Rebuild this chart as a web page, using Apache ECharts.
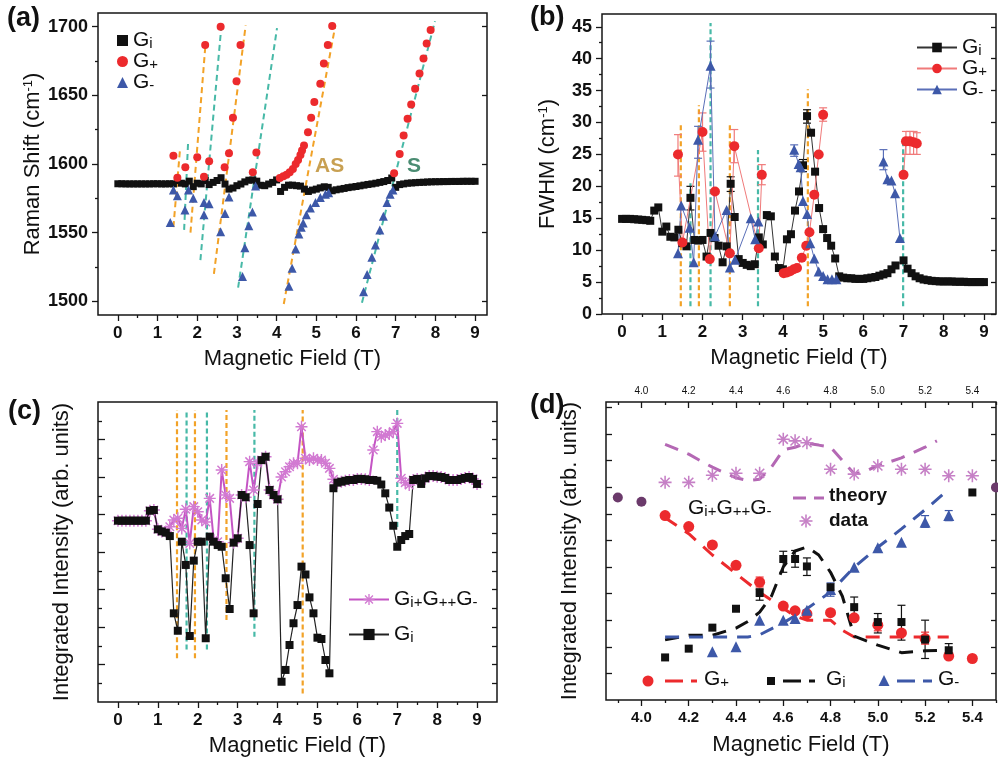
<!DOCTYPE html>
<html>
<head>
<meta charset="utf-8">
<script src="https://cdn.jsdelivr.net/npm/echarts@6/dist/echarts.min.js"></script>
<style>html,body{margin:0;padding:0;background:#fff}#chart{width:998px;height:761px}</style>
</head>
<body>
<div id="chart"></div>
<script>
// ---------- panel (a): Raman shift vs field ----------
const aGi = [[0,1585.6],[0.1,1585.6],[0.2,1585.5],[0.3,1585.5],[0.4,1585.5],[0.5,1585.5],[0.6,1585.5],[0.7,1585.5],[0.8,1585.5],[0.9,1585.6],[1.0,1585.6],[1.1,1585.5],[1.2,1585.5],[1.3,1585.6],[1.4,1585.5],[1.5,1588],[1.6,1586],[1.7,1585.5],[1.8,1587.5],[1.9,1583.5],[2.0,1586],[2.1,1585.5],[2.2,1588],[2.3,1585],[2.4,1586.6],[2.5,1588],[2.6,1590],[2.7,1585.4],[2.8,1581.7],[2.9,1582.5],[3.0,1584.2],[3.1,1585.4],[3.2,1587],[3.3,1588.2],[3.4,1588.4],[3.5,1587.5],[3.6,1584.5],[3.7,1584.2],[3.8,1585.4],[3.9,1586.6],[4.0,1588.4],[4.1,1580],[4.2,1583],[4.3,1584.6],[4.4,1584.6],[4.5,1584.2],[4.6,1583.9],[4.7,1581.7],[4.8,1580],[4.9,1581],[5.0,1581.7],[5.1,1582.6],[5.2,1583.4],[5.3,1583],[5.4,1580.5],[5.5,1581.2],[5.6,1581.7],[5.7,1582.2],[5.8,1582.8],[5.9,1583.2],[6.0,1583.6],[6.1,1584.1],[6.2,1584.6],[6.3,1585.1],[6.4,1585.5],[6.5,1586],[6.6,1586.6],[6.7,1587.2],[6.8,1588],[6.9,1589.8],[7.0,1583],[7.1,1585],[7.2,1585.5],[7.3,1586],[7.4,1586.2],[7.5,1586.4],[7.6,1586.6],[7.7,1586.7],[7.8,1586.9],[7.9,1587],[8.0,1587.1],[8.1,1587.1],[8.2,1587.2],[8.3,1587.2],[8.4,1587.3],[8.5,1587.3],[8.6,1587.3],[8.7,1587.4],[8.8,1587.4],[8.9,1587.4],[9.0,1587.4]];
const aGPlus = [[1.4,1606],[1.5,1590],[1.7,1597.6],[2.0,1605],[2.17,1590.8],[2.2,1686.6],[2.3,1602],[2.59,1700],[2.69,1597.6],[2.8,1607.8],[2.9,1633.7],[2.99,1660.3],[3.09,1686.6],[3.4,1594],[3.49,1608.3],
  [4.08,1589.8],[4.17,1591],[4.25,1592.2],[4.33,1593.9],[4.41,1596.3],[4.48,1600],[4.54,1602.9],[4.6,1606.6],[4.64,1609.8],[4.69,1613.4],[4.79,1623.2],[4.87,1633.7],[4.95,1645.1],[5.1,1658.5],[5.19,1673.2],[5.29,1686.6],[5.4,1700.5],
  [6.96,1593.2],[7.1,1607.3],[7.2,1620.7],[7.3,1632.9],[7.39,1643.4],[7.49,1654.9],[7.6,1665.9],[7.7,1676.8],[7.78,1687.8],[7.88,1697.6]];
const aGMinus = [[1.32,1557.4],[1.4,1581],[1.5,1576.8],[1.69,1566.5],[1.78,1581],[1.9,1575],[2.17,1572],[2.17,1563],[2.3,1571],[2.59,1550.7],[2.7,1564],[2.8,1576],[3.14,1518],[3.2,1539],[3.3,1555],[3.39,1565],[3.47,1584],
  [4.31,1511],[4.39,1524],[4.48,1538],[4.56,1549],[4.62,1554],[4.67,1557],[4.75,1563],[4.85,1568],[4.98,1572],[5.1,1575.6],[5.23,1578],[5.31,1579],
  [6.19,1507],[6.28,1519.5],[6.4,1532],[6.49,1541],[6.6,1552],[6.69,1562],[6.78,1572],[6.86,1578],[6.93,1581]];
// resonance guide lines [x1, y1, x2, y2]
const aOrangeLines = [[1.40,1554,1.57,1612],[1.83,1550,2.21,1688],[2.42,1520,3.22,1701],[4.18,1498,5.48,1701]];
const aTealLines = [[1.67,1552,1.77,1616],[2.08,1530,2.61,1701],[3.03,1510,4.01,1699],[6.15,1499,7.99,1704]];

// ---------- panel (b): FWHM ----------
const bGi = [[0,14.9],[0.1,14.9],[0.2,14.9],[0.3,14.85],[0.4,14.8],[0.5,14.75],[0.6,14.7],[0.7,14.6],[0.8,16.2],[0.9,16.7],[1.0,12.9],[1.1,13.7],[1.2,12.1],[1.3,12.0],[1.4,13.2],[1.5,11.1],[1.6,10.6],[1.7,18.2],[1.8,11.6],[1.9,11.5],[2.0,11.6],[2.1,9.0],[2.2,12.7],[2.3,11.9],[2.4,10.7],[2.5,8.1],[2.6,10.6],[2.7,20.4],[2.8,15.2],[2.9,8.6],[3.0,8.0],[3.1,7.7],[3.2,7.5],[3.3,7.8],[3.4,12.0],[3.5,10.9],[3.6,15.5],[3.7,15.3],[3.8,9.0],[3.9,7.2],[4.0,7.0],[4.1,11.7],[4.2,12.5],[4.3,16.2],[4.4,19.2],[4.5,23.3],[4.6,31.0],[4.7,28.4],[4.8,22.3],[4.9,16.6],[5.0,13.3],[5.1,11.9],[5.2,10.7],[5.3,8.7],[5.4,5.9],[5.5,5.7],[5.6,5.6],[5.7,5.6],[5.8,5.5],[5.9,5.5],[6.0,5.5],[6.1,5.6],[6.2,5.7],[6.3,5.8],[6.4,6.0],[6.5,6.2],[6.6,6.4],[6.7,7.0],[6.8,7.6],[7.0,8.4],[7.1,7.1],[7.2,6.4],[7.3,5.9],[7.4,5.6],[7.5,5.4],[7.6,5.3],[7.7,5.2],[7.8,5.15],[7.9,5.1],[8.0,5.1],[8.1,5.1],[8.2,5.1],[8.3,5.05],[8.4,5.05],[8.5,5.05],[8.6,5.0],[8.7,5.0],[8.8,5.0],[8.9,5.0],[9.0,5.0]];
const bGPlusGroups = [
  [[1.39,25.0],[1.5,11.2],[2.0,28.5],[2.18,8.6],[2.31,19.2],[2.68,9.5],[2.79,26.3],[3.4,10.3],[3.475,21.8]],
  [[4.02,6.4],[4.1,6.5],[4.18,6.7],[4.27,7.0],[4.35,7.2],[4.47,8.8],[4.58,10.7],[4.66,12.8],[4.78,18.7],[4.89,25.0],[5.0,31.2]],
  [[7.0,21.8],[7.06,27.05],[7.16,27.05],[7.25,26.9],[7.33,26.7]]
];
const bGMinusGroups = [
  [[1.39,9.5],[1.47,17.0],[1.68,13.5],[1.78,8.1],[1.89,27.3],[2.2,38.9],[2.31,12.2],[2.6,16.3],[2.68,7.3],[2.81,8.5],[3.2,15.0],[3.31,11.7],[3.39,14.5]],
  [[4.28,25.75],[4.39,23.5],[4.44,23.0],[4.5,17.7],[4.6,15.65],[4.68,11.1],[4.78,8.7],[4.89,6.65],[5.0,5.97],[5.11,5.44],[5.22,5.44],[5.33,5.44]],
  [[6.5,23.9],[6.6,21.1],[6.7,20.9],[6.79,18.9],[6.91,11.9]]
];
// error bars [x, low, high]
const bErrGi = [[1.7,16.3,20.0],[2.7,19.2,21.5],[4.5,22.3,24.2],[4.6,29.9,32.0]];
const bErrGPlus = [[1.39,21.6,28.1],[2.0,25.5,31.5],[2.79,23.7,28.9],[3.475,20.25,23.4],[5.0,30.2,32.3],[7.06,25.0,28.6],[7.16,25.0,28.6],[7.25,25.0,28.6],[7.33,25.0,28.4]];
const bErrGMinus = [[1.89,24.4,29.4],[2.2,35.4,42.75],[4.28,24.7,26.5],[6.5,22.6,25.75]];
// vertical resonance marks [x, bottom, top]
const bOrangeMarks = [[1.46,1.2,30],[1.91,1.2,32.7],[2.68,1.2,29.7],[4.62,1.2,35.2]];
const bTealMarks = [[1.7,1.2,20.5],[2.2,1.2,45.6],[3.38,1.2,25.7],[6.99,1.2,27.6]];

// ---------- panel (c): integrated intensity ----------
const cGi = [[0,9.67],[0.1,9.67],[0.2,9.67],[0.3,9.67],[0.4,9.67],[0.5,9.67],[0.6,9.67],[0.7,9.67],[0.8,10.2],[0.9,10.24],[1.0,9.21],[1.1,9.1],[1.2,9.03],[1.3,8.85],[1.4,4.73],[1.5,3.8],[1.6,8.55],[1.7,7.31],[1.8,3.52],[1.9,7.54],[2.0,8.55],[2.1,8.55],[2.2,3.4],[2.3,8.82],[2.4,8.55],[2.5,8.37],[2.6,8.28],[2.7,6.6],[2.8,4.96],[2.9,8.5],[3.0,8.73],[3.1,11.04],[3.2,10.92],[3.3,8.37],[3.4,4.73],[3.5,10.56],[3.6,12.9],[3.7,13.08],[3.8,11.31],[3.9,11.04],[4.0,10.81],[4.1,1.08],[4.2,1.71],[4.3,3.04],[4.4,4.2],[4.5,5.17],[4.6,7.22],[4.7,6.8],[4.8,5.58],[4.9,4.73],[5.0,3.43],[5.1,3.36],[5.2,2.24],[5.3,1.53],[5.4,11.4],[5.5,11.7],[5.6,11.75],[5.7,11.8],[5.8,11.84],[5.9,11.84],[6.0,11.9],[6.1,11.9],[6.2,11.88],[6.3,11.84],[6.4,11.84],[6.5,11.8],[6.6,11.6],[6.7,11.13],[6.8,10.37],[6.9,9.4],[7.0,8.28],[7.1,8.64],[7.2,8.85],[7.3,8.96],[7.4,11.84],[7.5,11.9],[7.6,11.63],[7.7,11.93],[7.8,12.05],[7.9,12.05],[8.0,12.02],[8.1,12.0],[8.2,11.95],[8.3,11.84],[8.4,11.84],[8.5,11.84],[8.6,11.9],[8.7,11.95],[8.8,12.0],[8.9,11.9],[9.0,11.63]];
const cSum = [[0,9.67],[0.1,9.67],[0.2,9.67],[0.3,9.67],[0.4,9.67],[0.5,9.67],[0.6,9.67],[0.7,9.67],[0.8,10.2],[0.9,10.24],[1.0,9.21],[1.1,9.1],[1.2,9.1],[1.3,9.35],[1.4,9.71],[1.5,9.8],[1.6,9.26],[1.7,10.28],[1.8,8.46],[1.9,10.42],[2.0,10.15],[2.1,9.71],[2.2,9.6],[2.3,10.86],[2.4,8.64],[2.5,8.55],[2.6,12.37],[2.7,11.04],[2.8,10.86],[2.9,8.5],[3.0,8.73],[3.1,11.04],[3.2,10.92],[3.3,12.82],[3.4,11.31],[3.5,12.73],[3.6,12.9],[3.7,13.08],[3.8,11.31],[3.9,11.04],[4.0,10.81],[4.1,12.0],[4.2,12.28],[4.3,12.55],[4.4,12.73],[4.5,12.73],[4.6,14.68],[4.7,13.0],[4.8,12.91],[4.9,13.0],[5.0,12.91],[5.1,12.91],[5.2,12.73],[5.3,12.46],[5.4,11.88],[5.5,11.7],[5.6,11.75],[5.7,11.8],[5.8,11.84],[5.9,11.84],[6.0,11.9],[6.1,11.9],[6.2,11.88],[6.3,11.84],[6.4,13.44],[6.5,14.42],[6.6,14.15],[6.7,14.24],[6.8,14.3],[6.9,14.42],[7.0,14.86],[7.1,11.93],[7.2,11.7],[7.3,11.57],[7.4,11.84],[7.5,11.9],[7.6,11.8],[7.7,11.93],[7.8,12.05],[7.9,12.05],[8.0,12.02],[8.1,12.0],[8.2,11.95],[8.3,11.84],[8.4,11.84],[8.5,11.84],[8.6,11.9],[8.7,11.95],[8.8,12.0],[8.9,11.9],[9.0,11.63]];
const cOrangeMarks = [[1.48,2.33,15.57],[1.93,2.33,15.57],[2.72,4.37,15.57],[4.63,0.46,15.57]];
const cTealMarks = [[1.72,2.8,15.57],[2.23,2.8,15.57],[3.42,3.48,15.57],[7.0,9.33,15.57]];

// ---------- panel (d): zoom 3.9 - 5.5 T ----------
const dData = [[4.1,8.18],[4.2,8.18],[4.3,8.45],[4.4,8.52],[4.5,8.52],[4.6,9.8],[4.65,9.74],[4.7,9.67],[4.8,8.67],[4.9,8.49],[5.0,8.8],[5.1,8.67],[5.2,8.67],[5.3,8.43],[5.4,8.43]];
const dGiOnly = [[3.9,7.61],[4.0,7.45],[5.5,7.99]];
const dTheory = [[4.1,9.61],[4.15,9.43],[4.2,9.24],[4.25,8.99],[4.3,8.75],[4.35,8.55],[4.4,8.35],[4.45,8.25],[4.5,8.3],[4.55,8.75],[4.6,9.4],[4.65,9.5],[4.7,9.65],[4.75,9.58],[4.8,9.5],[4.85,9.0],[4.9,8.5],[4.95,8.6],[5.0,8.82],[5.05,8.95],[5.1,9.1],[5.15,9.3],[5.2,9.5],[5.25,9.74]];
const dGPlus = [[4.1,6.93],[4.2,6.52],[4.3,5.83],[4.4,5.06],[4.5,4.43],[4.6,3.53],[4.65,3.35],[4.7,3.24],[4.8,3.28],[4.9,3.09],[5.0,2.81],[5.1,2.52],[5.2,2.31],[5.3,1.65],[5.4,1.56]];
const dGPlusTheory = [[4.1,6.85],[4.2,6.25],[4.3,5.45],[4.4,4.75],[4.5,4.05],[4.6,3.45],[4.65,3.15],[4.7,3.0],[4.8,3.0],[4.85,2.62],[4.9,2.37],[5.0,2.37],[5.1,2.37],[5.2,2.37],[5.3,2.37]];
const dGi = [[4.1,1.6],[4.2,1.93],[4.3,2.72],[4.4,3.43],[4.5,4.02],[4.6,5.3],[4.65,5.3],[4.7,5.02],[4.8,4.24],[4.9,3.49],[5.0,2.93],[5.1,2.93],[5.2,2.27],[5.3,1.87],[5.4,7.8]];
const dGiTheory = [[4.1,2.26],[4.2,2.43],[4.3,2.43],[4.4,2.7],[4.45,2.95],[4.5,3.3],[4.55,3.9],[4.6,5.0],[4.65,5.6],[4.7,5.75],[4.75,5.45],[4.8,4.8],[4.85,3.9],[4.9,2.4],[5.0,2.06],[5.1,1.78],[5.2,1.85],[5.3,1.87]];
const dGMinus = [[4.3,1.81],[4.4,2.0],[4.5,3.0],[4.6,3.0],[4.65,3.06],[4.7,3.37],[4.8,4.15],[4.9,4.99],[5.0,5.72],[5.1,5.93],[5.2,6.68],[5.3,6.93]];
const dGMinusTheory = [[4.1,2.37],[4.2,2.37],[4.3,2.37],[4.4,2.37],[4.45,2.37],[4.5,2.45],[4.6,2.9],[4.7,3.43],[4.8,4.06],[4.9,4.99],[5.0,5.74],[5.1,6.43],[5.2,7.15],[5.3,7.92]];
const dErrGi = [[4.5,3.75,4.18],[4.6,4.8,5.59],[4.65,4.99,5.62],[4.7,4.68,5.34],[4.9,3.18,3.87],[5.0,2.52,3.25],[5.1,2.25,3.56],[5.2,1.56,3.0],[5.3,1.56,2.12]];
const dErrGPlus = [[4.5,4.25,4.62],[5.0,2.6,3.0],[5.2,2.1,2.55]];
const dErrGMinus = [[4.8,3.9,4.4],[5.2,6.49,6.93],[5.3,6.74,7.12]];

// ---------- tick values ----------
const fieldTicks = [0,1,2,3,4,5,6,7,8,9];
const fieldMinor = [0.5,1.5,2.5,3.5,4.5,5.5,6.5,7.5,8.5];
const shiftTicks = [1500,1550,1600,1650,1700];
const shiftMinor = [1525,1575,1625,1675];
const fwhmTicks = [0,5,10,15,20,25,30,35,40,45];
const fwhmMinor = [2.5,7.5,12.5,17.5,22.5,27.5,32.5,37.5,42.5];
const cIntTicks = [2,4,6,8,10,12,14];
const cIntMinor = [1,3,5,7,9,11,13,15];
const dFieldTicks = [4.0,4.2,4.4,4.6,4.8,5.0,5.2,5.4];
const dFieldMinor = [3.9,4.1,4.3,4.5,4.7,4.9,5.1,5.3,5.5];
const dIntTicks = [1,2,3,4,5,6,7,8,9,10,11];

const FONT = '"Liberation Sans", Arial, sans-serif';
const INK = '#161616';
const RED = '#ec2a2d', BLUE = '#3d58a8', BLACK = '#111111';
const ORANGE = '#f2a227', TEAL = '#47b9a7';
const PURPLE = '#c454c4', PSTAR = '#d27ad2';
const DPURPLE = '#b468b4', DSTAR = '#c680c6', DARK = '#6b3a6b';
const STAR = 'path://M0,8.8L20,8.8L20,11.2L0,11.2Z M8.8,0L11.2,0L11.2,20L8.8,20Z M2.08,3.78L3.78,2.08L17.92,16.22L16.22,17.92Z M3.78,17.92L2.08,16.22L16.22,2.08L17.92,3.78Z';

const RICH = {
  b: {fontFamily: FONT, fontSize: 21, color: BLACK},
  s: {fontFamily: FONT, fontSize: 15, color: BLACK, verticalAlign: 'bottom'}
};
const legendText = {
  aGi: '{b|G}{s|i}', aGp: '{b|G}{s|+}', aGm: '{b|G}{s|-}',
  bGi: '{b|G}{s|i}', bGp: '{b|G}{s|+}', bGm: '{b|G}{s|-}',
  cSum: '{b|G}{s|i+}{b|G}{s|++}{b|G}{s|-}', cGi: '{b|G}{s|i}'
};

const nameStyle = {fontFamily: FONT, fontSize: 22, color: BLACK,
  rich: {sup: {fontFamily: FONT, fontSize: 13, color: BLACK, verticalAlign: 'top'}}};

function axis(extra) {
  return Object.assign({type: 'value', splitLine: {show: false},
    axisLine: {show: false, onZero: false}, axisLabel: {show: false}, axisTick: {show: false}}, extra);
}
function ticks(values, length, inside) {
  return {show: true, customValues: values, length: length, inside: inside, lineStyle: {color: INK, width: 1.3}};
}
const plain = v => String(v);
const oneDec = v => Number(v).toFixed(1);
function labels(values, size, margin, fmt) {
  return {show: true, customValues: values, fontFamily: FONT, fontWeight: 'bold', fontSize: size, color: BLACK,
    margin: margin, formatter: fmt || plain};
}

function scatter(name, data, xi, yi, symbol, size, color, z) {
  return {name, type: 'scatter', xAxisIndex: xi, yAxisIndex: yi, data, symbol, symbolSize: size,
    itemStyle: {color, opacity: 1}, z: z || 3, silent: true};
}
function curve(name, data, xi, yi, symbol, size, color, lineColor, width) {
  return {name, type: 'line', xAxisIndex: xi, yAxisIndex: yi, data, symbol, symbolSize: size,
    showSymbol: true, itemStyle: {color, opacity: 1}, lineStyle: {color: lineColor, width: width}, z: 3, silent: true};
}
function dashed(data, xi, yi, color, width, dash, name) {
  return {name: name || '', type: 'line', xAxisIndex: xi, yAxisIndex: yi, data, symbol: 'none',
    lineStyle: {color, width, type: dash}, z: 2, silent: true};
}
function segmentLines(segs, xi, yi, color) {
  return segs.map(s => dashed([[s[0], s[1]], [s[2], s[3]]], xi, yi, color, 2, [6, 4]));
}
function verticalMarks(marks, xi, yi, color) {
  return marks.map(m => dashed([[m[0], m[1]], [m[0], m[2]]], xi, yi, color, 2.2, [5, 3]));
}
function errorBars(data, xi, yi, color) {
  return {
    type: 'custom', xAxisIndex: xi, yAxisIndex: yi, data, silent: true, z: 3,
    encode: {x: 0, y: [1, 2]},
    renderItem: (params, api) => {
      const top = api.coord([api.value(0), api.value(2)]);
      const bot = api.coord([api.value(0), api.value(1)]);
      const w = 4;
      const st = {stroke: color, lineWidth: 1.2};
      return {type: 'group', children: [
        {type: 'line', shape: {x1: top[0], y1: top[1], x2: bot[0], y2: bot[1]}, style: st},
        {type: 'line', shape: {x1: top[0] - w, y1: top[1], x2: top[0] + w, y2: top[1]}, style: st},
        {type: 'line', shape: {x1: bot[0] - w, y1: bot[1], x2: bot[0] + w, y2: bot[1]}, style: st}
      ]};
    }
  };
}

const grids = [
  {left: 98, top: 13, width: 389, height: 302},
  {left: 602, top: 14, width: 394, height: 300},
  {left: 98, top: 402, width: 399, height: 300},
  {left: 606, top: 402, width: 390, height: 298}
].map(g => Object.assign({show: true, borderColor: INK, borderWidth: 1.5, backgroundColor: 'transparent',
  containLabel: false, outerBoundsMode: 'none'}, g));

const fieldName = {name: 'Magnetic Field (T)', nameLocation: 'middle', nameTextStyle: nameStyle};

const xAxis = [
  // (a) 0,1
  axis(Object.assign({gridIndex: 0, position: 'bottom', min: -0.5, max: 9.3,
    axisTick: ticks(fieldTicks, 6, false), axisLabel: labels(fieldTicks, 17, 10), nameGap: 33}, fieldName)),
  axis({gridIndex: 0, position: 'bottom', min: -0.5, max: 9.3, axisTick: ticks(fieldMinor, 3, false)}),
  // (b) 2,3
  axis(Object.assign({gridIndex: 1, position: 'bottom', min: -0.5, max: 9.3,
    axisTick: ticks(fieldTicks, 6, false), axisLabel: labels(fieldTicks, 17, 10), nameGap: 33}, fieldName)),
  axis({gridIndex: 1, position: 'bottom', min: -0.5, max: 9.3, axisTick: ticks(fieldMinor, 3, false)}),
  // (c) 4,5
  axis(Object.assign({gridIndex: 2, position: 'bottom', min: -0.5, max: 9.5,
    axisTick: ticks(fieldTicks, 6, false), axisLabel: labels(fieldTicks, 17, 10), nameGap: 33}, fieldName)),
  axis({gridIndex: 2, position: 'bottom', min: -0.5, max: 9.5, axisTick: ticks(fieldMinor, 3, false)}),
  // (d) 6,7 bottom, 8,9 top
  axis(Object.assign({gridIndex: 3, position: 'bottom', min: 3.85, max: 5.5,
    axisTick: ticks(dFieldTicks, 6, false), axisLabel: labels(dFieldTicks, 15, 10, oneDec), nameGap: 34}, fieldName)),
  axis({gridIndex: 3, position: 'bottom', min: 3.85, max: 5.5, axisTick: ticks(dFieldMinor, 3, false)}),
  axis({gridIndex: 3, position: 'top', min: 3.85, max: 5.5, axisTick: ticks(dFieldTicks, 6, true),
    axisLabel: {show: true, customValues: dFieldTicks, fontFamily: FONT, fontSize: 10, color: BLACK, margin: 6, formatter: oneDec}}),
  axis({gridIndex: 3, position: 'top', min: 3.85, max: 5.5, axisTick: ticks(dFieldMinor, 3, true)})
];

const intName = {name: 'Integrated Intensity (arb. units)', nameLocation: 'middle', nameTextStyle: nameStyle};
const yAxis = [
  // (a) 0,1,2
  axis({gridIndex: 0, position: 'left', min: 1490, max: 1710, axisTick: ticks(shiftTicks, 6, false),
    axisLabel: labels(shiftTicks, 18, 10), name: 'Raman Shift (cm{sup|-1})', nameLocation: 'middle', nameGap: 45, nameTextStyle: nameStyle}),
  axis({gridIndex: 0, position: 'left', min: 1490, max: 1710, axisTick: ticks(shiftMinor, 3, false)}),
  axis({gridIndex: 0, position: 'right', min: 1490, max: 1710, axisTick: ticks(shiftTicks, 5, true)}),
  // (b) 3,4,5
  axis({gridIndex: 1, position: 'left', min: 0, max: 47, axisTick: ticks(fwhmTicks, 6, false),
    axisLabel: labels(fwhmTicks, 18, 10), name: 'FWHM (cm{sup|-1})', nameLocation: 'middle', nameGap: 43, nameTextStyle: nameStyle}),
  axis({gridIndex: 1, position: 'left', min: 0, max: 47, axisTick: ticks(fwhmMinor, 3, false)}),
  axis({gridIndex: 1, position: 'right', min: 0, max: 47, axisTick: ticks(fwhmTicks, 5, true)}),
  // (c) 6,7,8
  axis(Object.assign({gridIndex: 2, position: 'left', min: 0, max: 16, axisTick: ticks(cIntTicks, 7, true), nameGap: 25}, intName)),
  axis({gridIndex: 2, position: 'left', min: 0, max: 16, axisTick: ticks(cIntMinor, 4, true)}),
  axis({gridIndex: 2, position: 'right', min: 0, max: 16, axisTick: ticks(cIntTicks.concat(cIntMinor), 5, true)}),
  // (d) 9,10
  axis(Object.assign({gridIndex: 3, position: 'left', min: 0, max: 11.2, axisTick: ticks(dIntTicks, 6, true), nameGap: 25}, intName)),
  axis({gridIndex: 3, position: 'right', min: 0, max: 11.2, axisTick: ticks(dIntTicks, 5, true)})
];

const legendBase = {orient: 'vertical', selectedMode: false, padding: 0,
  formatter: n => legendText[n], textStyle: {fontFamily: FONT, fontSize: 21, color: BLACK, rich: RICH}};
const legend = [
  Object.assign({}, legendBase, {data: ['aGi', 'aGp', 'aGm'], left: 117, top: 30, itemGap: 0, itemWidth: 11, itemHeight: 11}),
  Object.assign({}, legendBase, {data: ['bGi', 'bGp', 'bGm'], left: 916, top: 37, itemGap: 0, itemWidth: 40, itemHeight: 12}),
  Object.assign({}, legendBase, {data: ['cSum', 'cGi'], left: 348, top: 589, itemGap: 14, itemWidth: 40, itemHeight: 14})
];

const series = [].concat(
  // (a)
  segmentLines(aOrangeLines, 0, 0, ORANGE),
  segmentLines(aTealLines, 0, 0, TEAL),
  [scatter('aGi', aGi, 0, 0, 'rect', 7, BLACK),
   scatter('aGp', aGPlus, 0, 0, 'circle', 8, RED, 4),
   scatter('aGm', aGMinus, 0, 0, 'triangle', 9, BLUE, 4)],
  // (b)
  verticalMarks(bOrangeMarks, 2, 3, ORANGE),
  verticalMarks(bTealMarks, 2, 3, TEAL),
  [errorBars(bErrGi, 2, 3, BLACK), errorBars(bErrGPlus, 2, 3, '#f07a7a'), errorBars(bErrGMinus, 2, 3, '#5a6fb8')],
  [curve('bGi', bGi, 2, 3, 'rect', 8, BLACK, '#333', 1)],
  bGPlusGroups.map(g => curve('bGp', g, 2, 3, 'circle', 10, RED, '#f07a7a', 1)),
  bGMinusGroups.map(g => curve('bGm', g, 2, 3, 'triangle', 10, BLUE, '#5a6fb8', 1)),
  // (c)
  verticalMarks(cOrangeMarks, 4, 6, ORANGE),
  verticalMarks(cTealMarks, 4, 6, TEAL),
  [curve('cSum', cSum, 4, 6, STAR, 12, PSTAR, PURPLE, 2),
   curve('cGi', cGi, 4, 6, 'rect', 8, BLACK, '#222', 1.2)],
  // (d)
  [dashed(dTheory, 6, 9, DPURPLE, 3, [14, 10]),
   dashed(dGPlusTheory, 6, 9, RED, 3, [14, 10]),
   dashed(dGiTheory, 6, 9, BLACK, 3, [14, 10]),
   dashed(dGMinusTheory, 6, 9, BLUE, 3, [14, 10]),
   errorBars(dErrGi, 6, 9, BLACK), errorBars(dErrGPlus, 6, 9, RED), errorBars(dErrGMinus, 6, 9, BLUE),
   scatter('dData', dData, 6, 9, STAR, 13, DSTAR),
   scatter('dGiOnly', dGiOnly, 6, 9, 'circle', 10, DARK),
   scatter('dGp', dGPlus, 6, 9, 'circle', 11, RED),
   scatter('dGi', dGi, 6, 9, 'rect', 8, BLACK, 4),
   scatter('dGm', dGMinus, 6, 9, 'triangle', 11, BLUE)]
);

// small asterisk for the (d) legend, built from four strokes
function starIcon(cx, cy, r, color) {
  const arms = [[r, 0], [0, r], [r * 0.71, r * 0.71], [r * 0.71, -r * 0.71]];
  return arms.map(a => ({type: 'line', z: 10, shape: {x1: cx - a[0], y1: cy - a[1], x2: cx + a[0], y2: cy + a[1]},
    style: {stroke: color, lineWidth: 1.6}}));
}

const label = (text, left, top) => ({type: 'text', left, top, z: 10,
  style: {text, font: 'bold 27px ' + FONT, fill: BLACK}});
const richText = (text, left, top) => ({type: 'text', left, top, z: 10, style: {text, rich: RICH, font: '21px ' + FONT, fill: BLACK}});
const graphic = {elements: [
  label('(a)', 7, 5), label('(b)', 530, 4), label('(c)', 8, 398), label('(d)', 530, 392),
  {type: 'text', left: 315, top: 156, z: 10, style: {text: 'AS', font: 'bold 21px ' + FONT, fill: '#c8a052'}},
  {type: 'text', left: 407, top: 156, z: 10, style: {text: 'S', font: 'bold 21px ' + FONT, fill: '#4a8c72'}},
  // (d) legend
  richText('{b|G}{s|i+}{b|G}{s|++}{b|G}{s|-}', 688, 498),
  {type: 'line', z: 10, shape: {x1: 793, y1: 498, x2: 824, y2: 498}, style: {stroke: DPURPLE, lineWidth: 3, lineDash: [13, 8]}},
  {type: 'text', left: 829, top: 486, z: 10, style: {text: 'theory', font: 'bold 19px ' + FONT, fill: BLACK}},
  {type: 'text', left: 829, top: 511, z: 10, style: {text: 'data', font: 'bold 19px ' + FONT, fill: BLACK}},
  {type: 'circle', z: 10, shape: {cx: 648, cy: 681, r: 5.5}, style: {fill: RED}},
  {type: 'line', z: 10, shape: {x1: 665, y1: 681, x2: 697, y2: 681}, style: {stroke: RED, lineWidth: 3, lineDash: [18, 8]}},
  richText('{b|G}{s|+}', 704, 669),
  {type: 'rect', z: 10, shape: {x: 767, y: 677, width: 8, height: 8}, style: {fill: BLACK}},
  {type: 'line', z: 10, shape: {x1: 783, y1: 681, x2: 815, y2: 681}, style: {stroke: BLACK, lineWidth: 3, lineDash: [18, 8]}},
  richText('{b|G}{s|i}', 826, 669),
  {type: 'polygon', z: 10, shape: {points: [[884, 675], [878.5, 686], [889.5, 686]]}, style: {fill: BLUE}},
  {type: 'line', z: 10, shape: {x1: 897, y1: 681, x2: 932, y2: 681}, style: {stroke: BLUE, lineWidth: 3, lineDash: [18, 8]}},
  richText('{b|G}{s|-}', 938, 669)
].concat(starIcon(806, 521, 6.5, DSTAR))};

const chart = echarts.init(document.getElementById('chart'), null, {renderer: 'canvas'});
chart.setOption({
  animation: false,
  backgroundColor: '#ffffff',
  textStyle: {fontFamily: FONT},
  grid: grids,
  xAxis: xAxis,
  yAxis: yAxis,
  legend: legend,
  graphic: graphic,
  series: series
});
</script>
</body>
</html>
